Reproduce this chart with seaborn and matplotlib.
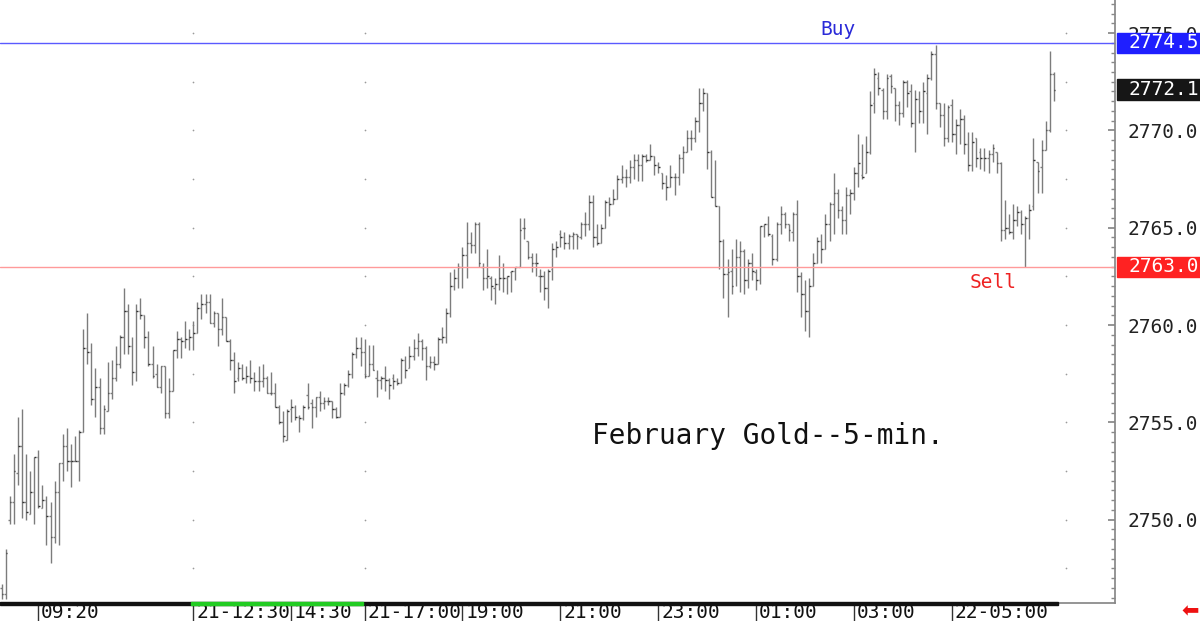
import matplotlib
matplotlib.use("Agg")
import matplotlib.pyplot as plt
import matplotlib.ticker as mticker
import matplotlib.transforms as mtransforms
from matplotlib.patches import Rectangle
import numpy as np
import seaborn as sns

# 5-minute OHLC bars, February gold
opens = [
    2746.5, 2746.2, 2750.0, 2750.9, 2752.4, 2753.8, 2750.9, 2750.3, 2751.4, 2753.2,
    2750.6, 2751.0, 2750.2, 2749.1, 2751.4, 2752.9, 2753.8, 2753.0, 2753.0, 2753.0,
    2754.5, 2758.8, 2758.6, 2756.2, 2756.8, 2754.7, 2755.6, 2756.5, 2757.3, 2758.0,
    2759.4, 2760.7, 2758.9, 2757.6, 2760.7, 2760.5, 2759.4, 2758.0, 2757.5, 2756.8,
    2757.9, 2755.5, 2756.6, 2758.7, 2759.3, 2759.2, 2759.3, 2759.4, 2759.6, 2760.9,
    2761.1, 2761.2, 2760.1, 2760.6, 2759.8, 2760.4, 2759.2, 2758.2, 2757.3, 2757.8,
    2757.3, 2757.4, 2757.3, 2757.1, 2757.1, 2757.3, 2756.5, 2756.5, 2755.8, 2755.0,
    2754.1, 2755.7, 2755.8, 2755.3, 2755.2, 2756.4, 2756.0, 2755.8, 2756.3, 2756.0,
    2756.1, 2756.1, 2755.7, 2755.3, 2756.5, 2756.9, 2757.5, 2758.5, 2758.8, 2758.6,
    2757.4, 2758.0, 2757.3, 2757.2, 2757.3, 2757.2, 2757.3, 2757.1, 2757.0, 2758.2,
    2757.8, 2758.4, 2758.8, 2759.2, 2758.8, 2757.9, 2758.1, 2758.0, 2759.3, 2759.4,
    2760.6, 2762.0, 2762.4, 2763.0, 2763.6, 2764.2, 2764.1, 2765.2, 2763.0, 2762.4,
    2762.4, 2761.9, 2762.1, 2762.4, 2762.4, 2762.7, 2762.8, 2763.0, 2765.0, 2764.3,
    2763.5, 2763.2, 2762.5, 2762.5, 2761.9, 2762.9, 2763.9, 2764.7, 2764.5, 2764.2,
    2764.6, 2764.7, 2764.5, 2765.2, 2765.2, 2766.3, 2764.5, 2764.2, 2765.0, 2766.3,
    2766.2, 2766.5, 2767.5, 2767.6, 2767.6, 2768.1, 2768.5, 2768.2, 2768.7, 2768.5,
    2768.7, 2768.2, 2767.8, 2767.3, 2767.1, 2767.6, 2767.6, 2768.6, 2768.9, 2769.6,
    2769.6, 2770.5, 2771.4, 2771.9, 2768.9, 2766.6, 2766.1, 2764.3, 2762.6, 2762.8,
    2763.0, 2763.5, 2763.8, 2762.3, 2763.2, 2762.7, 2762.3, 2765.1, 2765.2, 2764.6,
    2763.4, 2765.2, 2765.7, 2765.2, 2764.8, 2765.7, 2762.5, 2761.6, 2760.7, 2762.0,
    2763.2, 2764.3, 2763.9, 2765.2, 2766.2, 2766.8, 2765.9, 2765.4, 2766.7, 2766.8,
    2767.8, 2767.7, 2767.8, 2768.9, 2771.4, 2772.7, 2772.1, 2771.0, 2772.8, 2772.2,
    2771.3, 2770.9, 2772.5, 2772.0, 2770.4, 2771.6, 2771.0, 2771.9, 2772.7, 2773.9,
    2771.4, 2770.8, 2769.6, 2771.3, 2769.8, 2770.3, 2770.6, 2769.3, 2768.2, 2769.6,
    2768.9, 2768.6, 2768.6, 2768.8, 2768.9, 2768.3, 2764.9, 2765.0, 2764.8, 2765.4,
    2765.8, 2765.2, 2765.5, 2766.1, 2768.4, 2768.1, 2769.0, 2770.0, 2772.9,
]
highs = [
    2746.7, 2748.5, 2751.2, 2753.4, 2755.3, 2755.7, 2753.4, 2752.5, 2753.2, 2753.6,
    2751.8, 2751.2, 2750.9, 2752.0, 2752.9, 2754.4, 2754.7, 2753.9, 2754.3, 2754.6,
    2759.8, 2760.6, 2759.1, 2757.8, 2757.3, 2755.9, 2758.1, 2758.2, 2758.9, 2759.5,
    2761.9, 2761.1, 2759.4, 2761.1, 2761.4, 2760.5, 2759.7, 2758.9, 2758.0, 2757.9,
    2757.9, 2757.3, 2758.7, 2759.7, 2759.4, 2760.2, 2759.8, 2760.2, 2761.2, 2761.6,
    2761.6, 2761.6, 2760.7, 2760.6, 2761.4, 2760.4, 2759.3, 2758.6, 2758.1, 2758.0,
    2757.9, 2758.2, 2757.6, 2757.9, 2758.0, 2757.4, 2757.6, 2757.0, 2755.9, 2755.6,
    2755.7, 2756.2, 2755.9, 2755.4, 2755.9, 2757.0, 2756.2, 2756.3, 2756.6, 2756.3,
    2756.3, 2756.1, 2755.8, 2757.0, 2757.0, 2757.7, 2758.6, 2759.4, 2759.4, 2759.3,
    2759.0, 2759.0, 2757.7, 2757.4, 2757.9, 2757.3, 2757.5, 2757.3, 2758.3, 2758.4,
    2758.9, 2759.3, 2759.6, 2759.3, 2758.9, 2758.4, 2758.4, 2759.4, 2759.9, 2760.9,
    2762.7, 2762.9, 2763.2, 2764.0, 2765.3, 2764.8, 2765.3, 2765.3, 2763.2, 2763.9,
    2762.5, 2762.4, 2763.6, 2763.2, 2762.5, 2762.8, 2763.0, 2765.5, 2765.5, 2764.3,
    2763.7, 2763.7, 2762.9, 2762.8, 2762.9, 2764.2, 2764.3, 2764.9, 2764.8, 2764.7,
    2764.8, 2764.7, 2765.3, 2765.8, 2766.7, 2766.7, 2765.2, 2765.2, 2766.4, 2766.6,
    2767.0, 2767.7, 2768.2, 2768.0, 2768.5, 2768.8, 2768.8, 2768.8, 2768.8, 2769.3,
    2768.7, 2768.4, 2767.8, 2767.7, 2768.2, 2767.8, 2768.8, 2769.2, 2770.0, 2770.0,
    2770.7, 2772.2, 2772.2, 2771.9, 2769.0, 2768.5, 2766.1, 2764.4, 2763.4, 2763.9,
    2764.4, 2764.3, 2763.9, 2763.4, 2763.7, 2762.9, 2765.1, 2765.2, 2765.6, 2764.7,
    2765.3, 2766.1, 2765.8, 2765.2, 2765.8, 2766.4, 2762.7, 2762.3, 2762.4, 2763.7,
    2764.5, 2764.7, 2765.7, 2766.3, 2767.8, 2767.0, 2766.1, 2767.1, 2767.0, 2768.1,
    2769.8, 2769.3, 2769.7, 2772.0, 2773.2, 2773.0, 2772.2, 2772.9, 2772.9, 2772.2,
    2771.5, 2772.6, 2772.6, 2772.4, 2772.1, 2772.0, 2772.5, 2772.9, 2774.1, 2774.4,
    2771.4, 2771.4, 2771.3, 2771.6, 2770.6, 2771.1, 2770.8, 2769.9, 2769.9, 2769.6,
    2769.1, 2769.1, 2769.0, 2769.3, 2768.9, 2768.4, 2766.4, 2765.7, 2766.2, 2766.1,
    2765.9, 2765.6, 2766.2, 2769.6, 2768.4, 2769.5, 2770.5, 2774.1, 2773.0,
]
lows = [
    2745.9, 2745.9, 2749.8, 2749.8, 2751.8, 2750.1, 2750.0, 2750.3, 2749.8, 2750.6,
    2750.6, 2748.7, 2747.8, 2748.8, 2748.7, 2752.0, 2752.5, 2751.7, 2753.0, 2752.0,
    2754.5, 2758.0, 2755.9, 2755.3, 2754.4, 2754.4, 2755.6, 2756.2, 2757.1, 2757.8,
    2758.5, 2758.5, 2756.9, 2757.1, 2760.3, 2758.8, 2757.9, 2757.3, 2756.8, 2756.5,
    2755.2, 2755.2, 2756.6, 2758.3, 2758.3, 2758.8, 2758.7, 2758.7, 2759.6, 2760.3,
    2760.6, 2760.1, 2759.9, 2758.9, 2759.5, 2759.2, 2757.7, 2756.5, 2757.1, 2757.2,
    2757.0, 2757.0, 2756.6, 2756.6, 2756.8, 2756.5, 2756.4, 2755.8, 2754.9, 2754.0,
    2754.1, 2755.0, 2755.1, 2754.5, 2755.1, 2755.7, 2754.7, 2755.3, 2755.6, 2755.7,
    2755.9, 2755.2, 2755.2, 2755.3, 2756.4, 2756.8, 2757.3, 2758.3, 2757.9, 2757.3,
    2757.4, 2757.7, 2756.3, 2756.7, 2756.6, 2756.2, 2756.7, 2756.9, 2757.0, 2757.3,
    2757.8, 2758.2, 2758.4, 2758.2, 2757.2, 2757.8, 2757.7, 2758.0, 2759.1, 2759.1,
    2760.4, 2761.8, 2761.9, 2761.9, 2762.4, 2763.7, 2763.7, 2763.0, 2761.8, 2761.9,
    2761.3, 2761.1, 2761.8, 2761.7, 2761.6, 2761.7, 2762.3, 2763.0, 2764.4, 2763.4,
    2762.7, 2762.5, 2761.7, 2761.3, 2760.9, 2762.3, 2763.5, 2764.0, 2763.9, 2763.9,
    2763.9, 2763.9, 2764.4, 2764.6, 2764.9, 2764.0, 2764.1, 2764.2, 2765.0, 2765.6,
    2766.2, 2766.5, 2767.3, 2767.1, 2767.3, 2767.5, 2767.4, 2767.4, 2768.4, 2768.5,
    2767.7, 2767.8, 2767.0, 2766.4, 2767.1, 2766.7, 2767.2, 2767.8, 2768.9, 2769.0,
    2769.4, 2769.9, 2771.0, 2768.0, 2766.6, 2766.1, 2762.9, 2761.4, 2760.4, 2761.6,
    2762.0, 2761.7, 2761.6, 2761.9, 2762.3, 2761.8, 2762.1, 2764.5, 2764.6, 2763.1,
    2763.3, 2764.7, 2765.0, 2764.3, 2764.3, 2761.7, 2760.4, 2759.7, 2759.4, 2762.0,
    2763.2, 2763.2, 2763.9, 2764.3, 2764.7, 2765.5, 2764.7, 2764.7, 2765.7, 2766.4,
    2767.1, 2767.5, 2767.8, 2768.8, 2770.9, 2771.8, 2770.6, 2770.6, 2771.9, 2770.5,
    2770.3, 2770.7, 2771.2, 2770.2, 2768.9, 2770.4, 2770.4, 2769.8, 2772.6, 2771.1,
    2770.2, 2769.2, 2769.4, 2769.4, 2768.8, 2769.3, 2768.8, 2767.9, 2767.9, 2768.1,
    2768.0, 2767.9, 2767.8, 2768.4, 2767.8, 2764.3, 2764.4, 2764.7, 2764.4, 2765.1,
    2764.7, 2763.0, 2764.4, 2765.9, 2766.8, 2766.8, 2769.0, 2769.9, 2771.5,
]
closes = [
    2746.2, 2748.3, 2750.9, 2752.5, 2753.8, 2750.9, 2750.4, 2751.4, 2753.2, 2750.7,
    2751.0, 2750.2, 2749.1, 2751.4, 2752.9, 2753.8, 2753.0, 2753.0, 2753.0, 2754.5,
    2758.8, 2758.6, 2756.2, 2756.8, 2754.7, 2755.7, 2756.5, 2757.3, 2758.0, 2759.4,
    2760.7, 2758.9, 2757.6, 2760.7, 2760.5, 2759.4, 2758.0, 2757.4, 2756.8, 2757.9,
    2755.5, 2756.6, 2758.7, 2759.3, 2759.2, 2759.3, 2759.4, 2759.6, 2760.9, 2761.1,
    2761.2, 2760.1, 2760.6, 2759.8, 2760.4, 2759.2, 2758.2, 2757.1, 2757.8, 2757.3,
    2757.4, 2757.3, 2757.1, 2757.1, 2757.3, 2756.5, 2756.5, 2755.8, 2755.0, 2754.3,
    2755.6, 2755.8, 2755.3, 2755.2, 2755.8, 2755.8, 2755.8, 2756.3, 2756.0, 2756.1,
    2756.1, 2755.7, 2755.3, 2756.5, 2756.9, 2757.5, 2758.5, 2758.8, 2758.6, 2757.4,
    2758.0, 2757.7, 2757.2, 2757.3, 2757.2, 2756.9, 2757.1, 2757.0, 2758.2, 2757.7,
    2758.4, 2758.8, 2759.2, 2758.8, 2757.9, 2758.1, 2758.0, 2759.3, 2759.4, 2760.6,
    2762.0, 2762.4, 2763.0, 2763.6, 2764.2, 2764.1, 2765.2, 2763.2, 2762.4, 2762.5,
    2762.0, 2762.1, 2762.4, 2762.4, 2762.5, 2762.8, 2763.0, 2764.9, 2765.0, 2763.5,
    2763.2, 2763.2, 2762.5, 2761.9, 2762.8, 2763.9, 2764.0, 2764.5, 2764.2, 2764.6,
    2764.7, 2764.6, 2765.2, 2765.2, 2766.3, 2764.5, 2764.2, 2765.0, 2766.3, 2766.2,
    2766.5, 2767.5, 2767.6, 2767.6, 2768.1, 2768.5, 2768.2, 2768.7, 2768.5, 2768.7,
    2768.2, 2768.1, 2767.3, 2767.1, 2767.6, 2767.6, 2768.6, 2768.9, 2769.6, 2769.6,
    2770.5, 2771.4, 2771.9, 2768.9, 2766.6, 2766.1, 2764.3, 2762.6, 2762.7, 2762.0,
    2763.5, 2763.8, 2762.3, 2763.2, 2762.8, 2762.3, 2765.1, 2765.2, 2764.7, 2763.4,
    2765.2, 2765.7, 2765.2, 2764.9, 2765.7, 2762.5, 2761.6, 2760.7, 2762.0, 2763.2,
    2764.3, 2763.9, 2765.2, 2766.2, 2766.8, 2765.9, 2765.4, 2766.7, 2766.8, 2767.8,
    2768.3, 2767.6, 2768.9, 2771.3, 2772.9, 2772.2, 2771.0, 2772.7, 2772.3, 2771.3,
    2770.9, 2772.5, 2771.9, 2770.4, 2771.6, 2771.0, 2772.0, 2772.7, 2773.9, 2771.4,
    2770.8, 2769.6, 2771.2, 2769.8, 2770.3, 2770.6, 2769.3, 2768.2, 2769.4, 2768.6,
    2768.6, 2768.6, 2768.8, 2769.1, 2768.3, 2764.9, 2765.0, 2764.8, 2765.4, 2765.8,
    2765.2, 2765.5, 2765.9, 2768.5, 2767.9, 2769.0, 2770.0, 2772.9, 2772.1,
]

tick_bars = [9, 47, 71, 89, 113, 137, 161, 185, 209, 233]
tick_labels = ["09:20", "21-12:30", "14:30", "21-17:00", "19:00",
               "21:00", "23:00", "01:00", "03:00", "22-05:00"]
price_ticks = [2750.0, 2755.0, 2760.0, 2765.0, 2770.0, 2775.0]
grid_bars = [47, 89, 261]
buy_level = 2774.5
sell_level = 2763.0
last_price = closes[-1]

sns.set_theme(style="white")
plt.rcParams["font.family"] = ["DejaVu Sans Mono", "DejaVu Sans"]

fig = plt.figure(figsize=(12, 6.21), dpi=100)
ax = fig.add_axes([0, 18 / 621, 1115 / 1200, 603 / 621])

x = np.arange(len(closes))
bar_color = "#7c7c7c"
ax.vlines(x, lows, highs, color=bar_color, lw=1.0)
ax.hlines(opens, x - 0.4, x, color=bar_color, lw=1.0)
ax.hlines(closes, x, x + 0.4, color="#333333", lw=1.0)

ax.set_xlim(-0.4, 273)
ax.set_ylim(2745.72, 2776.70)

# dotted grid: dots every 2.5 on a few columns
grid_levels = np.arange(2747.5, 2776.0, 2.5)
gx, gy = np.meshgrid(grid_bars, grid_levels)
ax.scatter(gx.ravel(), gy.ravel(), s=1.5, color="#9a9a9a", linewidths=0, zorder=0)

# buy / sell levels
ax.axhline(buy_level, color="#5a5aff", lw=1)
ax.axhline(sell_level, color="#ff9a9a", lw=1)
ax.text(205, buy_level + 0.7, "Buy", color="#2a2ad8", fontsize=14,
        ha="center", va="center")
ax.text(243, sell_level - 0.82, "Sell", color="#ee2222", fontsize=14,
        ha="center", va="center")
ax.text(188, 2754.3, "February Gold--5-min.", color="#111111", fontsize=20,
        ha="center", va="center")

# price axis on the right
ax.yaxis.tick_right()
ax.set_yticks(price_ticks)
ax.yaxis.set_major_formatter(mticker.FormatStrFormatter("%.1f"))
ax.yaxis.set_minor_locator(mticker.MultipleLocator(0.5))
ax.tick_params(axis="y", which="both", direction="in", right=True, left=False,
               colors="#888888", labelcolor="#222222", labelsize=14, pad=9)
ax.tick_params(axis="y", which="major", length=5)
ax.tick_params(axis="y", which="minor", length=3)

# time axis
ax.set_xticks(tick_bars)
ax.set_xticklabels([""] * len(tick_bars))
ax.tick_params(axis="x", bottom=True, direction="out", length=13, width=1,
               colors="#333333")
xt = mtransforms.blended_transform_factory(ax.transData, ax.transAxes)
for tb, lab in zip(tick_bars, tick_labels):
    ax.text(tb + 0.7, -0.0155, lab, transform=xt, fontsize=14, color="#111111",
            ha="left", va="center", clip_on=False)

for side in ["left", "top"]:
    ax.spines[side].set_visible(False)
ax.spines["right"].set_color("#888888")
ax.spines["bottom"].set_color("#888888")

# session strip along the bottom
ax.add_patch(Rectangle((-0.4, -0.004), len(closes) + 0.4, 0.006, transform=xt,
                       color="#111111", clip_on=False, zorder=5))
ax.add_patch(Rectangle((tick_bars[1] - 0.5, -0.004), tick_bars[3] - tick_bars[1],
                       0.006, transform=xt, color="#22cc22", clip_on=False, zorder=6))

# price boxes on the scale
yt = mtransforms.blended_transform_factory(ax.transAxes, ax.transData)
for level, face in [(buy_level, "#1f1fff"), (last_price, "#161616"),
                    (sell_level, "#ff2222")]:
    ax.add_patch(Rectangle((1.0018, level - 0.52), 0.08, 1.04, transform=yt,
                           color=face, clip_on=False, zorder=10))
    ax.text(1.0117, level, f"{level:.1f}", transform=yt, color="white",
            fontsize=14, ha="left", va="center", clip_on=False, zorder=11)

fig.text(1190 / 1200, 1 - 611 / 621, "\u2b05", color="#ee1111", fontsize=15,
         ha="center", va="center", family="DejaVu Sans")

fig.savefig("out.png", dpi=100)
